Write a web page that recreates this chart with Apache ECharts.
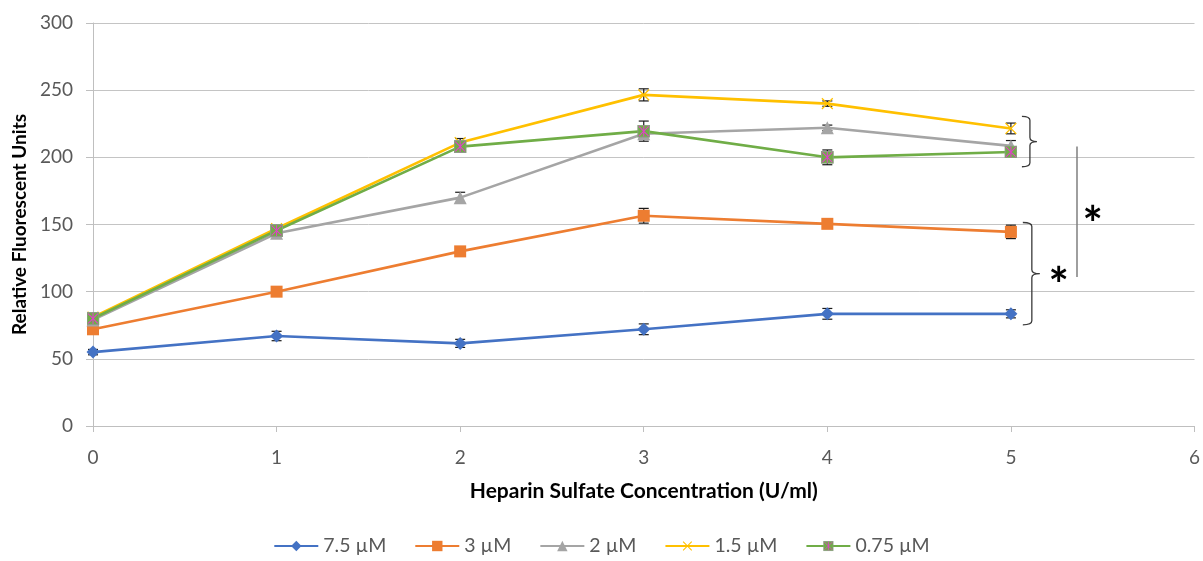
<!DOCTYPE html>
<html>
<head>
<meta charset="utf-8">
<script src="https://cdn.jsdelivr.net/npm/echarts@6/dist/echarts.min.js"></script>
<style>
  html, body { margin: 0; padding: 0; background: #ffffff; }
  #chart { width: 1203px; height: 561px; }
</style>
</head>
<body>
<div id="chart"></div>
<script>
// Heparin sulfate concentration (U/ml)
const concentrations = [0, 1, 2, 3, 4, 5];
const seriesNames = ['7.5 µM', '3 µM', '2 µM', '1.5 µM', '0.75 µM'];

// Relative fluorescent units (mean) per probe concentration
const rfu7_5 = [55, 67, 61.5, 72, 83.5, 83.5];
const rfu3 = [72, 100, 130, 156.5, 150.5, 144.5];
const rfu2 = [79, 143.5, 170, 217.5, 222, 208.5];
const rfu1_5 = [81, 147, 211, 246.5, 240, 221.5];
const rfu0_75 = [80, 145.5, 208, 219.5, 200, 204];

// Error (± value) per point
const err7_5 = [2, 3.5, 3, 4, 4, 3];
const err3 = [1, 3.5, 2, 5.5, 3, 5];
const err2 = [1, 2, 4, 4, 2, 4];
const err1_5 = [1, 2, 3, 4.5, 2, 4];
const err0_75 = [2, 3, 4, 7.5, 5.5, 3];

// Significance brackets (data units)
const bracketUpper = { x: 5.06, yFrom: 230.5, yTo: 193 };
const bracketLower = { x: 5.065, yFrom: 151.5, yTo: 75.3 };
const connector = { x: 5.36, yFrom: 208, yTo: 111 };
const starMarks = [[5.445, 159.5], [5.26, 114]];

const FONT = 'Lato, "Open Sans", sans-serif';
const colors = ['#4472C4', '#ED7D31', '#A5A5A5', '#FFC000', '#70AD47'];

const svgUri = s => 'image://data:image/svg+xml;charset=utf-8,' + encodeURIComponent(s);
const crossSymbol = svgUri(
  "<svg xmlns='http://www.w3.org/2000/svg' width='24' height='24' viewBox='0 0 24 24'>" +
  "<path d='M2,2L22,22M22,2L2,22' stroke='#FFC000' stroke-width='2.4' fill='none'/></svg>");
const boxCrossSymbol = svgUri(
  "<svg xmlns='http://www.w3.org/2000/svg' width='24' height='24' viewBox='0 0 24 24'>" +
  "<rect x='1' y='1' width='22' height='22' fill='#70AD47' stroke='#8f9a88' stroke-width='2'/>" +
  "<path d='M3,3L21,21M21,3L3,21M12,2L12,22' stroke='#E040C8' stroke-width='2' fill='none'/></svg>");

function lineSeries(name, values, color, symbol, size) {
  return {
    name: name,
    type: 'line',
    data: concentrations.map((x, i) => [x, values[i]]),
    symbol: symbol,
    symbolSize: size,
    showAllSymbol: true,
    lineStyle: { color: color, width: 2.6 },
    itemStyle: { color: color, borderWidth: 0 },
    emphasis: { disabled: true },
    z: 2
  };
}

// Error bars sit beneath the lines and markers
function errorSeries(values, errors) {
  return {
    type: 'custom',
    silent: true,
    z: 1,
    data: concentrations.map((x, i) => [x, values[i] - errors[i], values[i] + errors[i]]),
    encode: { x: 0, y: [1, 2] },
    renderItem: function (params, api) {
      const lo = api.coord([api.value(0), api.value(1)]);
      const hi = api.coord([api.value(0), api.value(2)]);
      const w = 5;
      const style = { stroke: '#1a1a1a', lineWidth: 1.2 };
      return {
        type: 'group',
        children: [
          { type: 'line', shape: { x1: lo[0], y1: lo[1], x2: hi[0], y2: hi[1] }, style: style },
          { type: 'line', shape: { x1: lo[0] - w, y1: lo[1], x2: lo[0] + w, y2: lo[1] }, style: style },
          { type: 'line', shape: { x1: hi[0] - w, y1: hi[1], x2: hi[0] + w, y2: hi[1] }, style: style }
        ]
      };
    }
  };
}

// Curly bracket path between two data-space points on the same x
function bracePath(api, b, w, t) {
  const a = api.coord([b.x, b.yFrom]), c = api.coord([b.x, b.yTo]);
  const x = a[0], y1 = a[1], y2 = c[1], ym = (y1 + y2) / 2, r = 4;
  return 'M' + x + ',' + y1 +
    ' Q' + (x + w) + ',' + y1 + ' ' + (x + w) + ',' + (y1 + r) +
    ' L' + (x + w) + ',' + (ym - r) +
    ' Q' + (x + w) + ',' + ym + ' ' + (x + w + t) + ',' + ym +
    ' Q' + (x + w) + ',' + ym + ' ' + (x + w) + ',' + (ym + r) +
    ' L' + (x + w) + ',' + (y2 - r) +
    ' Q' + (x + w) + ',' + y2 + ' ' + x + ',' + y2;
}

const annotationSeries = {
  type: 'custom',
  silent: true,
  z: 5,
  clip: false,
  data: [[0, 0]],
  encode: { x: 0, y: 1 },
  renderItem: function (params, api) {
    const braceStyle = { stroke: '#3a3a3a', lineWidth: 1.3, fill: null };
    const c1 = api.coord([connector.x, connector.yFrom]);
    const c2 = api.coord([connector.x, connector.yTo]);
    const children = [
      { type: 'path', shape: { pathData: bracePath(api, bracketUpper, 8, 7) }, style: braceStyle },
      { type: 'path', shape: { pathData: bracePath(api, bracketLower, 9, 8) }, style: braceStyle },
      { type: 'line', shape: { x1: c1[0], y1: c1[1], x2: c2[0], y2: c2[1] },
        style: { stroke: '#7f7f7f', lineWidth: 1.5 } }
    ];
    starMarks.forEach(function (s) {
      const p = api.coord(s);
      children.push({
        type: 'text', x: p[0], y: p[1] + 14,
        style: { text: '*', fontFamily: FONT, fontSize: 48, fontWeight: 'bold', fill: '#000000',
                 align: 'center', verticalAlign: 'middle' }
      });
    });
    return { type: 'group', children: children };
  }
};

const chart = echarts.init(document.getElementById('chart'));

chart.setOption({
  animation: false,
  backgroundColor: '#ffffff',
  grid: { left: 93, right: 8, top: 23, bottom: 135, containLabel: false },
  legend: {
    data: seriesNames,
    bottom: 0,
    left: 'center',
    itemWidth: 44,
    itemHeight: 13,
    itemGap: 28,
    textStyle: { fontFamily: FONT, fontSize: 19.5, color: '#595959' }
  },
  xAxis: {
    type: 'value',
    min: 0,
    max: 6,
    interval: 1,
    name: 'Heparin Sulfate Concentration (U/ml)',
    nameLocation: 'middle',
    nameGap: 55,
    nameTextStyle: { fontFamily: FONT, fontSize: 21, fontWeight: 'bold', color: '#000000' },
    axisLine: { show: true, lineStyle: { color: '#BFBFBF', width: 1 } },
    axisTick: { show: true, length: 6, lineStyle: { color: '#BFBFBF' } },
    axisLabel: { fontFamily: FONT, fontSize: 19, color: '#595959', margin: 22 },
    splitLine: { show: false }
  },
  yAxis: {
    type: 'value',
    min: 0,
    max: 300,
    interval: 50,
    name: 'Relative Fluorescent Units',
    nameLocation: 'middle',
    nameGap: 64,
    nameTextStyle: { fontFamily: FONT, fontSize: 19, fontWeight: 'bold', color: '#000000' },
    axisLine: { show: true, lineStyle: { color: '#BFBFBF', width: 1 } },
    axisTick: { show: true, length: 7, lineStyle: { color: '#BFBFBF' } },
    axisLabel: { fontFamily: FONT, fontSize: 19, color: '#595959', margin: 20 },
    splitLine: { show: true, lineStyle: { color: '#C4C4C4', width: 1 } }
  },
  series: [
    lineSeries(seriesNames[0], rfu7_5, colors[0], 'diamond', 13),
    errorSeries(rfu7_5, err7_5),
    lineSeries(seriesNames[1], rfu3, colors[1], 'rect', 12),
    errorSeries(rfu3, err3),
    lineSeries(seriesNames[2], rfu2, colors[2], 'triangle', 13),
    errorSeries(rfu2, err2),
    lineSeries(seriesNames[3], rfu1_5, colors[3], crossSymbol, 13),
    errorSeries(rfu1_5, err1_5),
    lineSeries(seriesNames[4], rfu0_75, colors[4], boxCrossSymbol, 13),
    errorSeries(rfu0_75, err0_75),
    annotationSeries
  ]
});
</script>
</body>
</html>
